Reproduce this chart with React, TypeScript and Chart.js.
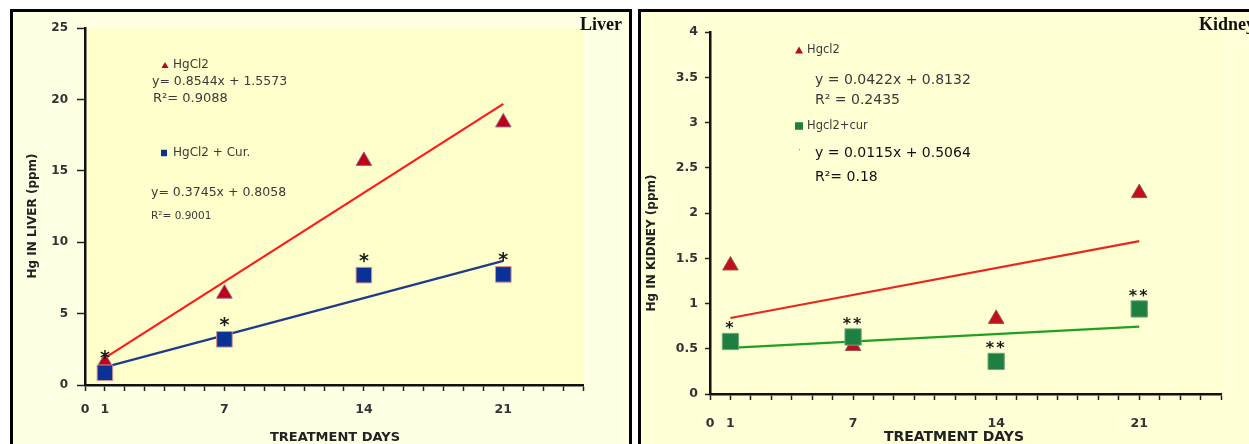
import React, { useEffect, useRef } from 'react';
import { Chart, registerables } from 'chart.js';

Chart.register(...registerables);

// ---------- data ----------
const days = [1, 7, 14, 21];
const trendDays = [1, 21];
const xTickLabels = [0, 1, 7, 14, 21];

const liverHgCl2 = [1.6, 6.4, 15.7, 18.4];
const liverHgCl2Cur = [0.86, 3.2, 7.7, 7.75];
const liverHgCl2Trend = [1.9, 19.7];
const liverHgCl2CurTrend = [1.25, 8.7];
const liverStars = ['*', '*', '*', '*'];

const kidneyHgcl2 = [1.42, 0.53, 0.83, 2.22];
const kidneyHgcl2Cur = [0.58, 0.63, 0.36, 0.94];
const kidneyHgcl2Trend = [0.84, 1.69];
const kidneyHgcl2CurTrend = [0.51, 0.745];
const kidneyStars = ['*', '**', '**', '**'];

const liverLegend = ['HgCl2', 'HgCl2 + Cur.'];
const liverEquations = ['y= 0.8544x + 1.5573', 'y= 0.3745x + 0.8058'];
const liverR2 = ['R²= 0.9088', 'R²= 0.9001'];
const kidneyLegend = ['Hgcl2', 'Hgcl2+cur'];
const kidneyEquations = ['y = 0.0422x + 0.8132', 'y = 0.0115x + 0.5064'];
const kidneyR2 = ['R² = 0.2435', 'R²= 0.18'];

const liverTitle = 'Liver';
const kidneyTitle = 'Kidney';
const liverYTitle = 'Hg IN LIVER (ppm)';
const kidneyYTitle = 'Hg IN KIDNEY (ppm)';
const xTitle = 'TREATMENT DAYS';

const FONT = '"DejaVu Sans"';

type TextItem = {
  text: string; x: number; y: number; size: number; color?: string; weight?: string;
  align?: CanvasTextAlign; family?: string; rotate?: boolean;
};
type Marker = { shape: 'tri' | 'rect'; x: number; y: number; w: number; h: number; color: string };

function makeConfig(p: any) {
  const decor = {
    id: 'decor' + p.id,
    beforeDraw(chart: any) {
      const { ctx, chartArea: a, width, height } = chart;
      ctx.save();
      ctx.fillStyle = p.outerBg;
      ctx.fillRect(0, 0, width, height);
      ctx.fillStyle = p.plotBg;
      ctx.fillRect(a.left, a.top, a.right - a.left, a.bottom - a.top);
      ctx.restore();
    },
    afterDatasetsDraw(chart: any) {
      const { ctx, scales } = chart;
      ctx.save();
      ctx.fillStyle = '#1a1a1a';
      ctx.textAlign = 'center';
      ctx.textBaseline = 'alphabetic';
      ctx.font = `bold ${p.starSize}px ${FONT}`;
      (ctx as any).letterSpacing = p.starSpacing + 'px';
      p.stars.forEach((s: string, i: number) => {
        const x = scales.x.getPixelForValue(days[i]);
        const y = scales.y.getPixelForValue(p.cur[i]) - p.starOffset;
        ctx.fillText(s, x, y + p.starSize * 0.56);
      });
      ctx.restore();
    },
    afterDraw(chart: any) {
      const { ctx } = chart;
      p.markers.forEach((m: Marker) => {
        ctx.save();
        ctx.fillStyle = m.color;
        ctx.beginPath();
        if (m.shape === 'tri') {
          ctx.moveTo(m.x, m.y - m.h / 2);
          ctx.lineTo(m.x + m.w / 2, m.y + m.h / 2);
          ctx.lineTo(m.x - m.w / 2, m.y + m.h / 2);
          ctx.closePath();
        } else {
          ctx.rect(m.x - m.w / 2, m.y - m.h / 2, m.w, m.h);
        }
        ctx.fill();
        ctx.restore();
      });
      p.texts.forEach((t: TextItem) => {
        ctx.save();
        ctx.font = `${t.weight || 'normal'} ${t.size}px ${t.family || FONT}`;
        ctx.fillStyle = t.color || '#3a3a3a';
        ctx.textAlign = t.align || 'left';
        ctx.textBaseline = 'middle';
        if (t.rotate) {
          ctx.translate(t.x, t.y);
          ctx.rotate(-Math.PI / 2);
          ctx.fillText(t.text, 0, 0);
        } else {
          ctx.fillText(t.text, t.x, t.y);
        }
        ctx.restore();
      });
    },
  };

  const pts = (xs: number[], ys: number[]) => xs.map((x, i) => ({ x, y: ys[i] }));

  return {
    type: 'scatter',
    data: {
      datasets: [
        {
          data: pts(days, p.cur), pointStyle: 'rect', pointRadius: p.rectR,
          backgroundColor: p.curColor, borderColor: p.curBorder, borderWidth: 1, order: 0,
        },
        {
          data: pts(days, p.hg), pointStyle: 'triangle', pointRadius: p.triR,
          backgroundColor: p.hgColor, borderColor: p.hgBorder, borderWidth: 1, order: 1,
        },
        {
          data: pts(trendDays, p.hgTrend), showLine: true, pointRadius: 0,
          borderColor: p.hgLine, borderWidth: 2.2, order: 2,
        },
        {
          data: pts(trendDays, p.curTrend), showLine: true, pointRadius: 0,
          borderColor: p.curLine, borderWidth: 2.2, order: 2,
        },
      ],
    },
    options: {
      animation: false,
      responsive: false,
      maintainAspectRatio: false,
      devicePixelRatio: 1,
      events: [],
      layout: { padding: { left: 0, top: p.padTop, right: p.padRight, bottom: 0 } },
      plugins: { legend: { display: false }, tooltip: { enabled: false } },
      scales: {
        x: {
          type: 'linear', min: 0, max: 25,
          afterFit: (s: any) => { s.height = p.xAxisH; },
          border: { display: true, color: '#111', width: 2.5 },
          grid: { drawOnChartArea: false, drawTicks: true, tickLength: 6, tickColor: '#222', tickWidth: 1.5 },
          ticks: {
            stepSize: 1, autoSkip: false, maxRotation: 0, padding: p.xPad, color: '#333',
            font: { family: 'DejaVu Sans', weight: 'bold', size: 12.5 },
            callback: (v: number) => (xTickLabels.includes(v) ? String(v) : ''),
          },
        },
        y: {
          type: 'linear', min: 0, max: p.yMax,
          afterFit: (s: any) => { s.width = p.yAxisW; },
          border: { display: true, color: '#111', width: 2.5 },
          grid: { drawOnChartArea: false, drawTicks: true, tickLength: p.yTick, tickColor: '#222', tickWidth: 1.5 },
          ticks: {
            stepSize: p.yStep, padding: p.yPad, color: '#333',
            font: { family: 'DejaVu Sans', weight: 'bold', size: p.yFont },
            callback: (v: number) => String(v),
          },
        },
      },
    },
    plugins: [decor],
  };
}

function Panel({ cfg, width, height }: { cfg: any; width: number; height: number }) {
  const ref = useRef<HTMLCanvasElement>(null);
  useEffect(() => {
    const chart = new Chart(ref.current as HTMLCanvasElement, cfg as any);
    return () => chart.destroy();
  }, []);
  return <canvas ref={ref} width={width} height={height} style={{ display: 'block', width, height }} />;
}

const liverCfg = makeConfig({
  id: 'L',
  hg: liverHgCl2, cur: liverHgCl2Cur, hgTrend: liverHgCl2Trend, curTrend: liverHgCl2CurTrend,
  stars: liverStars, starSize: 19, starSpacing: 0, starOffset: 19,
  outerBg: '#FFFFE4', plotBg: '#FFFFCC',
  rectR: 11, triR: 9,
  curColor: '#0A3296', curBorder: '#D89090', hgColor: '#C00018', hgBorder: '#8E6A8A',
  hgLine: '#FF1A1A', curLine: '#1F3A8A',
  padTop: 16, padRight: 46, xAxisH: 59, yAxisW: 72,
  xPad: 11, yPad: 9, yTick: 8, yFont: 12,
  yMax: 25, yStep: 5,
  markers: [
    { shape: 'tri', x: 152, y: 53, w: 7, h: 6, color: '#C00018' },
    { shape: 'rect', x: 151, y: 141, w: 6, h: 6.5, color: '#0A3296' },
  ],
  texts: [
    { text: liverLegend[0], x: 160, y: 53, size: 12 },
    { text: liverEquations[0], x: 139, y: 70, size: 12.5 },
    { text: liverR2[0], x: 140, y: 87, size: 13 },
    { text: liverLegend[1], x: 160, y: 141, size: 12 },
    { text: liverEquations[1], x: 138, y: 181, size: 12.5 },
    { text: liverR2[1], x: 138, y: 204, size: 10.5 },
    { text: liverTitle, x: 609, y: 13, size: 18, weight: 'bold', align: 'right', family: '"Liberation Serif"', color: '#111' },
    { text: liverYTitle, x: 20, y: 204, size: 12, weight: 'bold', align: 'center', rotate: true, color: '#222' },
    { text: xTitle, x: 322, y: 426, size: 13, weight: 'bold', align: 'center', color: '#222' },
  ],
});

const kidneyCfg = makeConfig({
  id: 'K',
  hg: kidneyHgcl2, cur: kidneyHgcl2Cur, hgTrend: kidneyHgcl2Trend, curTrend: kidneyHgcl2CurTrend,
  stars: kidneyStars, starSize: 16, starSpacing: 2, starOffset: 17,
  outerBg: '#FFFFD8', plotBg: '#FFFFD4',
  rectR: 11.5, triR: 9,
  curColor: '#1E8040', curBorder: '#6FA57A', hgColor: '#C0101A', hgBorder: '#9A5050',
  hgLine: '#E8281E', curLine: '#20A020',
  padTop: 20, padRight: 28, xAxisH: 50, yAxisW: 69,
  xPad: 16, yPad: 7, yTick: 5, yFont: 12.5,
  yMax: 4, yStep: 0.5,
  markers: [
    { shape: 'tri', x: 158, y: 38, w: 8, h: 7, color: '#B0101A' },
    { shape: 'rect', x: 158, y: 114, w: 8, h: 7.5, color: '#1E8040' },
  ],
  texts: [
    { text: kidneyLegend[0], x: 166, y: 38, size: 11.5 },
    { text: kidneyEquations[0], x: 174, y: 68, size: 14 },
    { text: kidneyR2[0], x: 174, y: 88, size: 14 },
    { text: kidneyLegend[1], x: 166, y: 114, size: 11.5 },
    { text: '·', x: 157, y: 138, size: 10, color: '#888' },
    { text: kidneyEquations[1], x: 174, y: 141, size: 14, color: '#111' },
    { text: kidneyR2[1], x: 174, y: 165, size: 14, color: '#111' },
    { text: kidneyTitle, x: 558, y: 13, size: 18, weight: 'bold', family: '"Liberation Serif"', color: '#111' },
    { text: kidneyYTitle, x: 11, y: 231, size: 12, weight: 'bold', align: 'center', rotate: true, color: '#222' },
    { text: xTitle, x: 313, y: 425, size: 14, weight: 'bold', align: 'center', color: '#222' },
  ],
});

export default function App() {
  return (
    <div style={{ position: 'fixed', left: 0, top: 0, width: 1249, height: 444, background: '#fff', overflow: 'hidden' }}>
      <div style={{ position: 'absolute', left: 10, top: 9, width: 622, height: 460, boxSizing: 'border-box', border: '3px solid #000' }}>
        <Panel cfg={liverCfg} width={616} height={432} />
      </div>
      <div style={{ position: 'absolute', left: 638, top: 9, width: 630, height: 460, boxSizing: 'border-box', border: '3px solid #000' }}>
        <Panel cfg={kidneyCfg} width={608} height={432} />
      </div>
    </div>
  );
}
